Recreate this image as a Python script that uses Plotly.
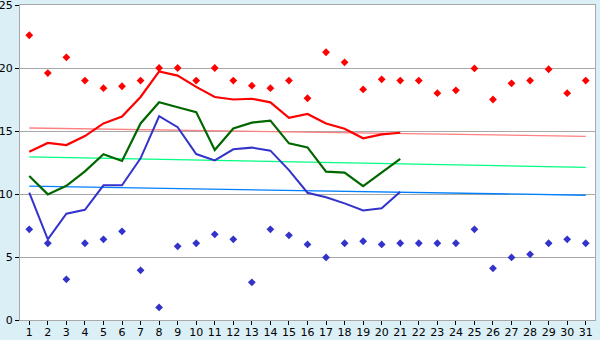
import plotly.graph_objects as go

days = list(range(1, 32))
day_labels = [str(d) for d in days]

max_vals = [22.6, 19.6, 20.85, 19.0, 18.4, 18.55, 19.0, 20.0, 20.0, 19.0,
            20.0, 19.0, 18.6, 18.4, 19.0, 17.6, 21.25, 20.45, 18.3, 19.1,
            19.0, 19.0, 18.0, 18.23, 19.97, 17.5, 18.78, 19.0, 19.9, 18.0, 19.0]
min_vals = [7.2, 6.09, 3.23, 6.09, 6.4, 7.04, 3.94, 1.0, 5.85, 6.09,
            6.8, 6.4, 2.99, 7.2, 6.72, 6.0, 4.97, 6.09, 6.25, 6.0,
            6.09, 6.09, 6.09, 6.09, 7.2, 4.1, 4.97, 5.21, 6.09, 6.4, 6.09]

line_days = list(range(1, 22))
red_line = [13.36, 14.05, 13.88, 14.6, 15.6, 16.15, 17.7, 19.73, 19.4, 18.5,
            17.7, 17.5, 17.56, 17.27, 16.05, 16.35, 15.6, 15.18, 14.42, 14.73, 14.86]
green_line = [11.43, 9.97, 10.65, 11.8, 13.15, 12.62, 15.6, 17.28, 16.88, 16.5,
              13.5, 15.2, 15.66, 15.82, 14.02, 13.7, 11.77, 11.7, 10.63, 11.7, 12.78]
blue_line = [10.1, 6.4, 8.44, 8.75, 10.69, 10.69, 12.83, 16.17, 15.3, 13.17,
             12.67, 13.55, 13.68, 13.44, 11.9, 10.1, 9.74, 9.26, 8.7, 8.87, 10.18]

trend_days = [1, 31]
red_trend = [15.24, 14.58]
green_trend = [12.94, 12.12]
blue_trend = [10.63, 9.9]

fig = go.Figure()

for y, c in [(red_trend, "#FF8080"), (green_trend, "#00FF80"), (blue_trend, "#0080FF")]:
    fig.add_trace(go.Scatter(x=trend_days, y=y, mode="lines",
                             line=dict(color=c, width=1.3), hoverinfo="skip"))

fig.add_trace(go.Scatter(x=line_days, y=red_line, mode="lines",
                         line=dict(color="#FF0000", width=2.2)))
fig.add_trace(go.Scatter(x=line_days, y=green_line, mode="lines",
                         line=dict(color="#006600", width=2.2)))
fig.add_trace(go.Scatter(x=line_days, y=blue_line, mode="lines",
                         line=dict(color="#3333CC", width=2)))

fig.add_trace(go.Scatter(x=days, y=max_vals, mode="markers",
                         marker=dict(symbol="diamond", size=6, color="#FF0000")))
fig.add_trace(go.Scatter(x=days, y=min_vals, mode="markers",
                         marker=dict(symbol="diamond", size=6, color="#3333CC")))

fig.update_layout(
    width=600, height=340,
    margin=dict(l=20, r=5, t=5, b=20),
    paper_bgcolor="#DAEFF6",
    plot_bgcolor="#FFFFFF",
    showlegend=False,
    font=dict(family="DejaVu Sans", size=11, color="#000000"),
)
fig.update_xaxes(
    range=[0.5, 31.5], tickmode="array", tickvals=days, ticktext=day_labels,
    showgrid=False, zeroline=False, automargin=False, ticklabeloverflow="allow",
    showline=True, linecolor="#A8A8A8", linewidth=1, mirror=True,
    ticks="outside", ticklen=4, tickcolor="#000000", tickfont=dict(size=11),
    ticklabelstandoff=-2,
)
fig.update_yaxes(
    range=[0, 25], tickvals=[0, 5, 10, 15, 20, 25],
    showgrid=True, gridcolor="#A8A8A8", gridwidth=1, zeroline=False,
    automargin=False, ticklabeloverflow="allow",
    showline=True, linecolor="#A8A8A8", linewidth=1, mirror=True,
    ticks="outside", ticklen=4, tickcolor="#000000", tickfont=dict(size=11),
)

fig.write_html("out.html")
